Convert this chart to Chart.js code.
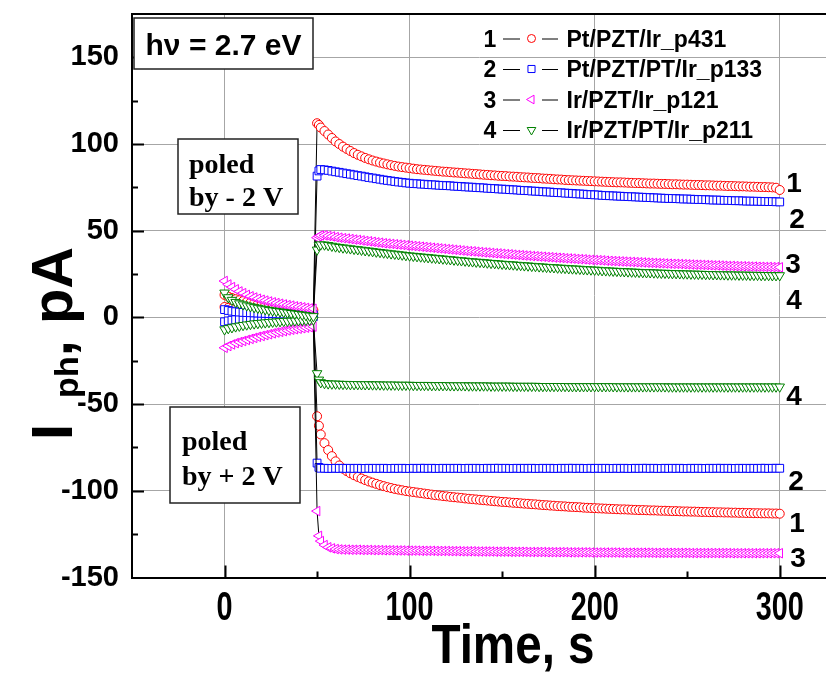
<!DOCTYPE html>
<html>
<head>
<meta charset="utf-8">
<script src="https://cdn.jsdelivr.net/npm/chart.js@4.4.0/dist/chart.umd.min.js"></script>
<style>
  html, body { margin: 0; padding: 0; background: #fff; overflow: hidden; }
</style>
</head>
<body>
<canvas id="chart" width="826" height="675"></canvas>
<script>
// ---- data ----
const sampleNames = ['Pt/PZT/Ir_p431', 'Pt/PZT/PT/Ir_p133', 'Ir/PZT/Ir_p121', 'Ir/PZT/PT/Ir_p211'];
const xLabelValues = [0, 100, 200, 300];
const yLabelValues = [-150, -100, -50, 0, 50, 100, 150];

// dark part (s)
const timePre = [0, 2, 4, 6, 8, 10, 12, 14, 16, 18, 20, 22, 24, 26, 28, 30, 32, 34, 36, 38, 40, 42, 44, 46, 48];
// illuminated part (s)
const timePost = [
  50, 51, 52, 54, 56, 58, 60, 62, 64, 66,
  68, 70, 72, 74, 76, 78, 80, 82, 84, 86,
  88, 90, 92, 94, 96, 98, 100, 102, 104, 106,
  108, 110, 112, 114, 116, 118, 120, 122, 124, 126,
  128, 130, 132, 134, 136, 138, 140, 142, 144, 146,
  148, 150, 152, 154, 156, 158, 160, 162, 164, 166,
  168, 170, 172, 174, 176, 178, 180, 182, 184, 186,
  188, 190, 192, 194, 196, 198, 200, 202, 204, 206,
  208, 210, 212, 214, 216, 218, 220, 222, 224, 226,
  228, 230, 232, 234, 236, 238, 240, 242, 244, 246,
  248, 250, 252, 254, 256, 258, 260, 262, 264, 266,
  268, 270, 272, 274, 276, 278, 280, 282, 284, 286,
  288, 290, 292, 294, 296, 298, 300
];

// 1: Pt/PZT/Ir_p431  (A: poled by -2 V, B: poled by +2 V)
const s1PreA = [13, 12, 11.2, 10.5, 9.9, 9.4, 8.9, 8.5, 8.1, 7.7, 7.4, 7.1, 6.8, 6.5, 6.2, 6.0, 5.8, 5.5, 5.3, 5.1, 4.9, 4.7, 4.5, 4.3, 4.2];
const s1PostA = [
  112, 111, 109.5, 107.5, 105.5, 103.5, 101.5, 100, 98.5, 97.2,
  96, 94.8, 93.8, 92.9, 92, 91.2, 90.5, 89.9, 89.3, 88.8,
  88.3, 87.8, 87.4, 87, 86.7, 86.4, 86.1, 85.8, 85.5, 85.3,
  85.1, 84.9, 84.7, 84.5, 84.3, 84.1, 84.0, 83.8, 83.6, 83.5,
  83.3, 83.1, 83.0, 82.8, 82.7, 82.5, 82.3, 82.2, 82.0, 81.9,
  81.7, 81.6, 81.5, 81.3, 81.2, 81.1, 80.9, 80.8, 80.7, 80.5,
  80.4, 80.3, 80.1, 80.0, 79.9, 79.7, 79.6, 79.5, 79.3, 79.2,
  79.1, 79.0, 78.9, 78.8, 78.7, 78.6, 78.5, 78.4, 78.3, 78.2,
  78.1, 78.0, 77.9, 77.9, 77.8, 77.7, 77.6, 77.5, 77.5, 77.4,
  77.3, 77.2, 77.2, 77.1, 77.0, 77.0, 76.9, 76.8, 76.8, 76.7,
  76.6, 76.6, 76.5, 76.4, 76.4, 76.3, 76.2, 76.2, 76.1, 76.0,
  76.0, 75.9, 75.8, 75.8, 75.7, 75.6, 75.6, 75.5, 75.4, 75.4,
  75.3, 75.2, 75.2, 75.1, 75.0, 74.8, 73.5
];
const s1PreB = [6.0, 5.5, 5.1, 4.8, 4.5, 4.3, 4.1, 3.9, 3.7, 3.6, 3.4, 3.3, 3.2, 3.1, 3.0, 2.9, 2.8, 2.7, 2.6, 2.6, 2.5, 2.4, 2.4, 2.3, 2.3];
const s1PostB = [
  -57, -62.5, -67.5, -72.5, -76.5, -80, -83, -85.4, -87.2, -88.6,
  -89.9, -91, -92, -92.9, -93.8, -94.6, -95.3, -96, -96.7, -97.3,
  -97.9, -98.4, -98.9, -99.3, -99.7, -100.1, -100.4, -100.7, -101.0, -101.3,
  -101.6, -101.9, -102.2, -102.5, -102.7, -103.0, -103.2, -103.5, -103.7, -103.9,
  -104.1, -104.4, -104.6, -104.8, -105.0, -105.2, -105.4, -105.6, -105.8, -106.0,
  -106.2, -106.4, -106.5, -106.7, -106.9, -107.0, -107.2, -107.4, -107.5, -107.7,
  -107.8, -108.0, -108.2, -108.3, -108.5, -108.6, -108.8, -108.9, -109.0, -109.2,
  -109.3, -109.4, -109.5, -109.7, -109.8, -109.9, -110.0, -110.1, -110.2, -110.3,
  -110.4, -110.5, -110.6, -110.7, -110.7, -110.8, -110.9, -111.0, -111.1, -111.1,
  -111.2, -111.3, -111.3, -111.4, -111.5, -111.5, -111.6, -111.7, -111.7, -111.8,
  -111.9, -111.9, -112.0, -112.0, -112.1, -112.2, -112.2, -112.3, -112.3, -112.4,
  -112.4, -112.5, -112.5, -112.6, -112.6, -112.7, -112.7, -112.8, -112.8, -112.9,
  -112.9, -113.0, -113.0, -113.0, -113.1, -113.1, -113.2
];

// 2: Pt/PZT/PT/Ir_p133
const s2PreA = [4.5, 4.0, 3.6, 3.3, 3.1, 2.9, 2.8, 2.7, 2.6, 2.5, 2.4, 2.3, 2.2, 2.2, 2.1, 2.0, 2.0, 1.9, 1.9, 1.8, 1.8, 1.7, 1.7, 1.6, 1.6];
const s2PostA = [
  81.5, 84.5, 85.3, 85.1, 84.8, 84.4, 84.0, 83.7, 83.3, 82.9,
  82.6, 82.2, 81.8, 81.5, 81.1, 80.7, 80.4, 80.0, 79.7, 79.3,
  79.0, 78.7, 78.4, 78.1, 77.9, 77.6, 77.4, 77.2, 77.1, 76.9,
  76.8, 76.6, 76.5, 76.4, 76.2, 76.1, 76.0, 75.9, 75.7, 75.6,
  75.5, 75.3, 75.2, 75.1, 74.9, 74.8, 74.7, 74.5, 74.4, 74.3,
  74.1, 74.0, 73.9, 73.7, 73.6, 73.5, 73.3, 73.2, 73.1, 72.9,
  72.8, 72.7, 72.5, 72.4, 72.3, 72.1, 72.0, 71.9, 71.7, 71.6,
  71.5, 71.3, 71.2, 71.1, 70.9, 70.8, 70.7, 70.6, 70.4, 70.3,
  70.2, 70.1, 70.0, 69.9, 69.8, 69.7, 69.6, 69.5, 69.4, 69.3,
  69.2, 69.1, 69.0, 68.9, 68.8, 68.7, 68.6, 68.6, 68.5, 68.4,
  68.3, 68.3, 68.2, 68.1, 68.0, 68.0, 67.9, 67.8, 67.7, 67.7,
  67.6, 67.5, 67.5, 67.4, 67.3, 67.3, 67.2, 67.1, 67.1, 67.0,
  67.0, 66.9, 66.9, 66.8, 66.8, 66.7, 66.6
];
const s2PreB = [-2.5, -2.0, -1.6, -1.3, -1.1, -0.9, -0.8, -0.7, -0.6, -0.5, -0.4, -0.3, -0.2, -0.2, -0.1, 0.0, 0.0, 0.1, 0.1, 0.2, 0.2, 0.3, 0.3, 0.4, 0.4];
const s2PostB = [
  -84, -86.5, -87.0, -87.0, -87.1, -87.1, -87.0, -87.1, -87.0, -87.1,
  -87.0, -87.1, -87.0, -87.1, -87.1, -87.0, -87.1, -87.0, -87.1, -87.0,
  -87.1, -87.1, -87.0, -87.1, -87.0, -87.1, -87.1, -87.0, -87.1, -87.0,
  -87.0, -87.1, -87.0, -87.1, -87.1, -87.0, -87.1, -87.0, -87.1, -87.0,
  -87.1, -87.1, -87.0, -87.1, -87.0, -87.1, -87.1, -87.0, -87.1, -87.0,
  -87.0, -87.1, -87.0, -87.1, -87.1, -87.0, -87.1, -87.0, -87.1, -87.0,
  -87.1, -87.1, -87.0, -87.1, -87.0, -87.1, -87.1, -87.0, -87.1, -87.0,
  -87.0, -87.1, -87.0, -87.1, -87.1, -87.0, -87.1, -87.0, -87.1, -87.0,
  -87.1, -87.1, -87.0, -87.1, -87.0, -87.1, -87.1, -87.0, -87.1, -87.0,
  -87.0, -87.1, -87.0, -87.1, -87.1, -87.0, -87.1, -87.0, -87.1, -87.0,
  -87.1, -87.1, -87.0, -87.1, -87.0, -87.1, -87.1, -87.0, -87.1, -87.0,
  -87.0, -87.1, -87.0, -87.1, -87.1, -87.0, -87.1, -87.0, -87.1, -87.0,
  -87.1, -87.0, -87.0, -87.1, -87.0, -87.0, -87.0
];

// 3: Ir/PZT/Ir_p121
const s3PreA = [21, 19, 17.5, 16.2, 15, 14, 13, 12.2, 11.5, 10.8, 10.2, 9.7, 9.2, 8.7, 8.3, 7.9, 7.5, 7.1, 6.8, 6.4, 6.1, 5.8, 5.5, 5.2, 5.0];
const s3PostA = [
  46.0, 46.8, 47.3, 47.3, 47.0, 46.7, 46.3, 46.0, 45.7, 45.5,
  45.2, 44.9, 44.7, 44.4, 44.1, 43.9, 43.6, 43.3, 43.1, 42.8,
  42.6, 42.4, 42.2, 42.0, 41.8, 41.6, 41.4, 41.2, 41.0, 40.8,
  40.6, 40.4, 40.2, 40.0, 39.8, 39.6, 39.4, 39.2, 39.0, 38.8,
  38.6, 38.4, 38.2, 38.1, 37.9, 37.7, 37.5, 37.4, 37.2, 37.0,
  36.9, 36.7, 36.5, 36.4, 36.2, 36.0, 35.9, 35.7, 35.6, 35.4,
  35.3, 35.1, 35.0, 34.8, 34.7, 34.5, 34.4, 34.3, 34.1, 34.0,
  33.9, 33.7, 33.6, 33.5, 33.3, 33.2, 33.1, 33.0, 32.9, 32.7,
  32.6, 32.5, 32.4, 32.3, 32.2, 32.1, 32.0, 31.9, 31.8, 31.7,
  31.6, 31.5, 31.4, 31.3, 31.2, 31.1, 31.0, 30.9, 30.9, 30.8,
  30.7, 30.6, 30.5, 30.4, 30.4, 30.3, 30.2, 30.1, 30.0, 30.0,
  29.9, 29.8, 29.7, 29.7, 29.6, 29.5, 29.5, 29.4, 29.3, 29.3,
  29.2, 29.2, 29.1, 29.1, 29.0, 29.0, 28.9
];
const s3PreB = [-17.5, -16.5, -15.6, -14.8, -14.2, -13.6, -13.0, -12.4, -11.8, -11.2, -10.7, -10.2, -9.7, -9.2, -8.7, -8.3, -7.9, -7.5, -7.1, -6.8, -6.5, -6.2, -5.9, -5.6, -5.3];
const s3PostB = [
  -111.7, -126, -129, -131.3, -132.6, -133.2, -133.6, -133.8, -133.9, -133.9,
  -134.0, -134.0, -134.0, -134.1, -134.1, -134.1, -134.2, -134.2, -134.2, -134.3,
  -134.3, -134.3, -134.4, -134.4, -134.4, -134.5, -134.5, -134.5, -134.5, -134.6,
  -134.6, -134.6, -134.6, -134.7, -134.7, -134.7, -134.7, -134.8, -134.8, -134.8,
  -134.9, -134.9, -134.9, -134.9, -135.0, -135.0, -135.0, -135.0, -135.0, -135.1,
  -135.1, -135.1, -135.1, -135.2, -135.2, -135.2, -135.2, -135.2, -135.3, -135.3,
  -135.3, -135.3, -135.3, -135.4, -135.4, -135.4, -135.4, -135.4, -135.4, -135.5,
  -135.5, -135.5, -135.5, -135.5, -135.5, -135.6, -135.6, -135.6, -135.6, -135.6,
  -135.6, -135.6, -135.6, -135.7, -135.7, -135.7, -135.7, -135.7, -135.7, -135.7,
  -135.7, -135.7, -135.8, -135.8, -135.8, -135.8, -135.8, -135.8, -135.8, -135.8,
  -135.8, -135.8, -135.9, -135.9, -135.9, -135.9, -135.9, -135.9, -135.9, -135.9,
  -135.9, -135.9, -135.9, -136.0, -136.0, -136.0, -136.0, -136.0, -136.0, -136.0,
  -136.0, -136.0, -136.0, -136.0, -136.0, -136.0, -136.0
];

// 4: Ir/PZT/PT/Ir_p211
const s4PreA = [14.2, 11.5, 10.0, 8.8, 8.0, 7.4, 6.8, 6.3, 5.8, 5.4, 5.0, 4.6, 4.2, 3.9, 3.6, 3.3, 3.0, 2.7, 2.4, 2.1, 1.8, 1.5, 1.2, 0.9, 0.6];
const s4PostA = [
  39.0, 41.5, 42.0, 41.9, 41.6, 41.2, 40.8, 40.5, 40.2, 40.0,
  39.7, 39.4, 39.2, 38.9, 38.6, 38.4, 38.1, 37.8, 37.6, 37.3,
  37.1, 36.8, 36.6, 36.3, 36.1, 35.8, 35.6, 35.4, 35.2, 35.0,
  34.8, 34.6, 34.4, 34.2, 34.0, 33.8, 33.6, 33.4, 33.2, 33.0,
  32.8, 32.6, 32.4, 32.2, 32.0, 31.9, 31.7, 31.5, 31.3, 31.2,
  31.0, 30.8, 30.7, 30.5, 30.4, 30.2, 30.1, 29.9, 29.8, 29.6,
  29.5, 29.3, 29.2, 29.0, 28.9, 28.8, 28.6, 28.5, 28.4, 28.2,
  28.1, 28.0, 27.9, 27.7, 27.6, 27.5, 27.4, 27.3, 27.1, 27.0,
  26.9, 26.8, 26.7, 26.6, 26.5, 26.4, 26.3, 26.2, 26.1, 26.0,
  25.9, 25.9, 25.8, 25.7, 25.6, 25.6, 25.5, 25.4, 25.4, 25.3,
  25.2, 25.2, 25.1, 25.1, 25.0, 25.0, 24.9, 24.9, 24.8, 24.8,
  24.7, 24.7, 24.6, 24.6, 24.6, 24.5, 24.5, 24.5, 24.4, 24.4,
  24.4, 24.3, 24.3, 24.3, 24.2, 24.2, 24.2
];
const s4PreB = [-7.0, -6.3, -5.8, -5.3, -4.9, -4.5, -4.2, -3.9, -3.6, -3.4, -3.2, -3.0, -2.8, -2.6, -2.5, -2.3, -2.2, -2.1, -2.0, -1.9, -1.8, -1.7, -1.6, -1.5, -1.4];
const s4PostB = [
  -32.3, -36.0, -37.5, -38.0, -38.2, -38.3, -38.3, -38.4, -38.5, -38.5,
  -38.6, -38.6, -38.6, -38.7, -38.7, -38.7, -38.8, -38.8, -38.8, -38.9,
  -38.9, -38.9, -38.9, -39.0, -39.0, -39.0, -39.0, -39.1, -39.1, -39.1,
  -39.1, -39.1, -39.2, -39.2, -39.2, -39.2, -39.2, -39.3, -39.3, -39.3,
  -39.3, -39.3, -39.4, -39.4, -39.4, -39.4, -39.4, -39.4, -39.5, -39.5,
  -39.5, -39.5, -39.5, -39.5, -39.6, -39.6, -39.6, -39.6, -39.6, -39.6,
  -39.6, -39.7, -39.7, -39.7, -39.7, -39.7, -39.7, -39.7, -39.7, -39.8,
  -39.8, -39.8, -39.8, -39.8, -39.8, -39.8, -39.8, -39.8, -39.8, -39.8,
  -39.8, -39.8, -39.9, -39.9, -39.9, -39.9, -39.9, -39.9, -39.9, -39.9,
  -39.9, -39.9, -39.9, -39.9, -39.9, -39.9, -40.0, -40.0, -40.0, -40.0,
  -40.0, -40.0, -40.0, -40.0, -40.0, -40.0, -40.0, -40.0, -40.0, -40.0,
  -40.0, -40.0, -40.0, -40.0, -40.0, -40.0, -40.0, -40.0, -40.0, -40.0,
  -40.0, -40.0, -40.0, -40.0, -40.0, -40.0, -40.0
];

// ---- styles ----
const SANS = '"Liberation Sans", Arial, Helvetica, sans-serif';
const SERIF = '"Liberation Serif", "Times New Roman", serif';
const styles = [
  { color: '#ff0000', shape: 'circle',   r: 4.5, rot: 0,   order: 4 },
  { color: '#0000ff', shape: 'rect',     r: 5.5, rot: 0,   order: 3 },
  { color: '#ff00ff', shape: 'triangle', r: 5.5, rot: -90, order: 2 },
  { color: '#008000', shape: 'triangle', r: 5.5, rot: 180, order: 1 }
];
const runs = [
  [s1PreA, s1PostA, s1PreB, s1PostB],
  [s2PreA, s2PostA, s2PreB, s2PostB],
  [s3PreA, s3PostA, s3PreB, s3PostB],
  [s4PreA, s4PostA, s4PreB, s4PostB]
];

function makeRun(pre, post, st) {
  const pts = timePre.map((t, i) => ({ x: t, y: pre[i] }))
    .concat(timePost.map((t, i) => ({ x: t, y: post[i] })));
  return {
    data: pts,
    showLine: true,
    borderColor: '#000',
    borderWidth: 1,
    pointStyle: st.shape,
    pointRadius: st.r,
    pointHoverRadius: st.r,
    pointRotation: st.rot,
    pointBorderColor: st.color,
    pointBackgroundColor: '#fff',
    pointBorderWidth: 1,
    order: st.order
  };
}

const datasets = [];
runs.forEach((r, i) => {
  datasets.push(makeRun(r[0], r[1], styles[i]));
  datasets.push(makeRun(r[2], r[3], styles[i]));
});

// small marker used in the legend
function marker(ctx, st, cx, cy, r) {
  ctx.beginPath();
  if (st.shape === 'circle') {
    ctx.arc(cx, cy, r, 0, Math.PI * 2);
  } else if (st.shape === 'rect') {
    const h = r * Math.SQRT1_2;
    ctx.rect(cx - h, cy - h, 2 * h, 2 * h);
  } else {
    let a = st.rot * Math.PI / 180;
    for (let k = 0; k < 3; k++) {
      const px = cx + Math.sin(a) * r, py = cy - Math.cos(a) * r;
      if (k === 0) ctx.moveTo(px, py); else ctx.lineTo(px, py);
      a += Math.PI * 2 / 3;
    }
    ctx.closePath();
  }
  ctx.fillStyle = '#fff';
  ctx.fill();
  ctx.strokeStyle = st.color;
  ctx.lineWidth = 1;
  ctx.stroke();
}

function box(ctx, x, y, w, h) {
  ctx.fillStyle = '#fff';
  ctx.fillRect(x, y, w, h);
  ctx.strokeStyle = '#222';
  ctx.lineWidth = 1.5;
  ctx.strokeRect(x, y, w, h);
}

function noPad(s) {
  s.paddingTop = 0; s.paddingBottom = 0; s.paddingLeft = 0; s.paddingRight = 0;
}

// frame, inward ticks, texts
const decorations = {
  id: 'decorations',
  beforeDatasetsDraw(chart) {
    const { ctx, chartArea: a, scales: { x, y } } = chart;
    ctx.save();
    ctx.strokeStyle = '#000';
    ctx.lineWidth = 2;
    ctx.beginPath();
    y.ticks.forEach(t => {
      if (t.value <= -150 || t.value >= 175) return;
      const py = Math.round(y.getPixelForValue(t.value)) + 0.5;
      const len = t.value % 50 === 0 ? 12 : 6;
      ctx.moveTo(a.left, py);
      ctx.lineTo(a.left + len, py);
    });
    x.ticks.forEach(t => {
      if (t.value <= -50) return;
      const px = Math.round(x.getPixelForValue(t.value)) + 0.5;
      const len = t.value % 100 === 0 ? 12 : 6;
      ctx.moveTo(px, a.bottom);
      ctx.lineTo(px, a.bottom - len);
    });
    ctx.stroke();
    ctx.restore();
  },
  afterDraw(chart) {
    const { ctx, chartArea: a, scales: { x } } = chart;
    ctx.save();

    // top frame line
    ctx.strokeStyle = '#000';
    ctx.lineWidth = 2;
    ctx.beginPath();
    ctx.moveTo(a.left - 1, a.top);
    ctx.lineTo(a.right, a.top);
    ctx.stroke();

    // x tick labels (condensed bold)
    ctx.fillStyle = '#000';
    ctx.textAlign = 'center';
    ctx.textBaseline = 'alphabetic';
    xLabelValues.forEach(v => {
      ctx.save();
      ctx.translate(x.getPixelForValue(v), 620);
      ctx.scale(0.72, 1);
      ctx.font = 'bold 40px ' + SANS;
      ctx.fillText(String(v), 0, 0);
      ctx.restore();
    });

    // x title
    ctx.save();
    ctx.translate(513, 663);
    ctx.scale(0.85, 1);
    ctx.font = 'bold 56px ' + SANS;
    ctx.fillText('Time, s', 0, 0);
    ctx.restore();

    // y title: I_ph, pA
    ctx.save();
    ctx.translate(72, 440);
    ctx.rotate(-Math.PI / 2);
    ctx.textAlign = 'left';
    ctx.font = 'bold 58px ' + SANS;
    let tx = 0;
    ctx.fillText('I', tx, 0);
    tx += ctx.measureText('I').width + 26;
    ctx.font = 'bold 34px ' + SANS;
    ctx.fillText('ph', tx, 6);
    tx += ctx.measureText('ph').width;
    ctx.font = 'bold 58px ' + SANS;
    ctx.fillText(', pA', tx, 0);
    ctx.restore();

    // photon energy box
    box(ctx, 134, 18, 179, 51);
    ctx.fillStyle = '#000';
    ctx.font = 'bold 30px ' + SANS;
    ctx.textAlign = 'center';
    ctx.fillText('h\u03bd = 2.7 eV', 223.5, 55);

    // poling boxes
    box(ctx, 178, 139, 120, 75);
    box(ctx, 170, 407, 130, 96);
    ctx.fillStyle = '#000';
    ctx.font = 'bold 28px ' + SERIF;
    ctx.textAlign = 'left';
    ctx.fillText('poled', 189, 173);
    ctx.fillText('by - 2 V', 189, 206);
    ctx.fillText('poled', 182, 450);
    ctx.fillText('by + 2 V', 182, 485);

    // legend
    const rowsY = [38.5, 69, 99.5, 130];
    sampleNames.forEach((name, i) => {
      const cy = rowsY[i];
      ctx.fillStyle = '#000';
      ctx.font = 'bold 23px ' + SANS;
      ctx.textAlign = 'center';
      ctx.fillText(String(i + 1), 490, cy + 8.2);
      ctx.strokeStyle = '#000';
      ctx.lineWidth = 1;
      ctx.beginPath();
      ctx.moveTo(503, cy + 0.5); ctx.lineTo(520, cy + 0.5);
      ctx.moveTo(542, cy + 0.5); ctx.lineTo(558, cy + 0.5);
      ctx.stroke();
      marker(ctx, styles[i], 531.5, cy, styles[i].shape === 'circle' ? 4 : 5);
      ctx.fillStyle = '#000';
      ctx.textAlign = 'left';
      ctx.fillText(name, 566.5, cy + 8.2);
    });

    // curve numbers at the right end
    const ends = [
      ['1', 794, 182], ['2', 797, 218], ['3', 793, 263], ['4', 794, 299],
      ['4', 794, 395], ['2', 796, 480], ['1', 797, 522], ['3', 798, 557]
    ];
    ctx.font = 'bold 28px ' + SANS;
    ctx.textAlign = 'center';
    ctx.fillStyle = '#000';
    ends.forEach(e => ctx.fillText(e[0], e[1], e[2] + 10));

    ctx.restore();
  }
};

new Chart(document.getElementById('chart'), {
  type: 'scatter',
  data: { datasets },
  options: {
    responsive: false,
    animation: false,
    devicePixelRatio: 1,
    events: [],
    layout: { autoPadding: false, padding: { top: 14, left: 0, right: 0, bottom: 0 } },
    plugins: { legend: { display: false }, tooltip: { enabled: false } },
    scales: {
      x: {
        type: 'linear',
        min: -50,
        max: 325,
        ticks: { stepSize: 50, includeBounds: false, display: false },
        grid: {
          drawTicks: false,
          lineWidth: 1,
          color: c => (c.tick && xLabelValues.includes(c.tick.value)) ? '#a6a6a6' : 'rgba(0,0,0,0)'
        },
        border: { color: '#000', width: 2 },
        afterFit(s) { s.height = 97.5; noPad(s); }
      },
      y: {
        type: 'linear',
        min: -150,
        max: 175,
        ticks: {
          stepSize: 25,
          includeBounds: false,
          autoSkip: false,
          padding: 13,
          color: '#000',
          font: { family: SANS, size: 29, weight: 'bold' },
          callback: v => yLabelValues.includes(v) ? String(v) : ''
        },
        grid: {
          drawTicks: false,
          lineWidth: 1,
          color: c => (c.tick && yLabelValues.includes(c.tick.value) && c.tick.value > -150) ? '#a6a6a6' : 'rgba(0,0,0,0)'
        },
        border: { color: '#000', width: 2 },
        afterFit(s) { s.width = 132; noPad(s); }
      }
    }
  },
  plugins: [decorations]
});
</script>
</body>
</html>
